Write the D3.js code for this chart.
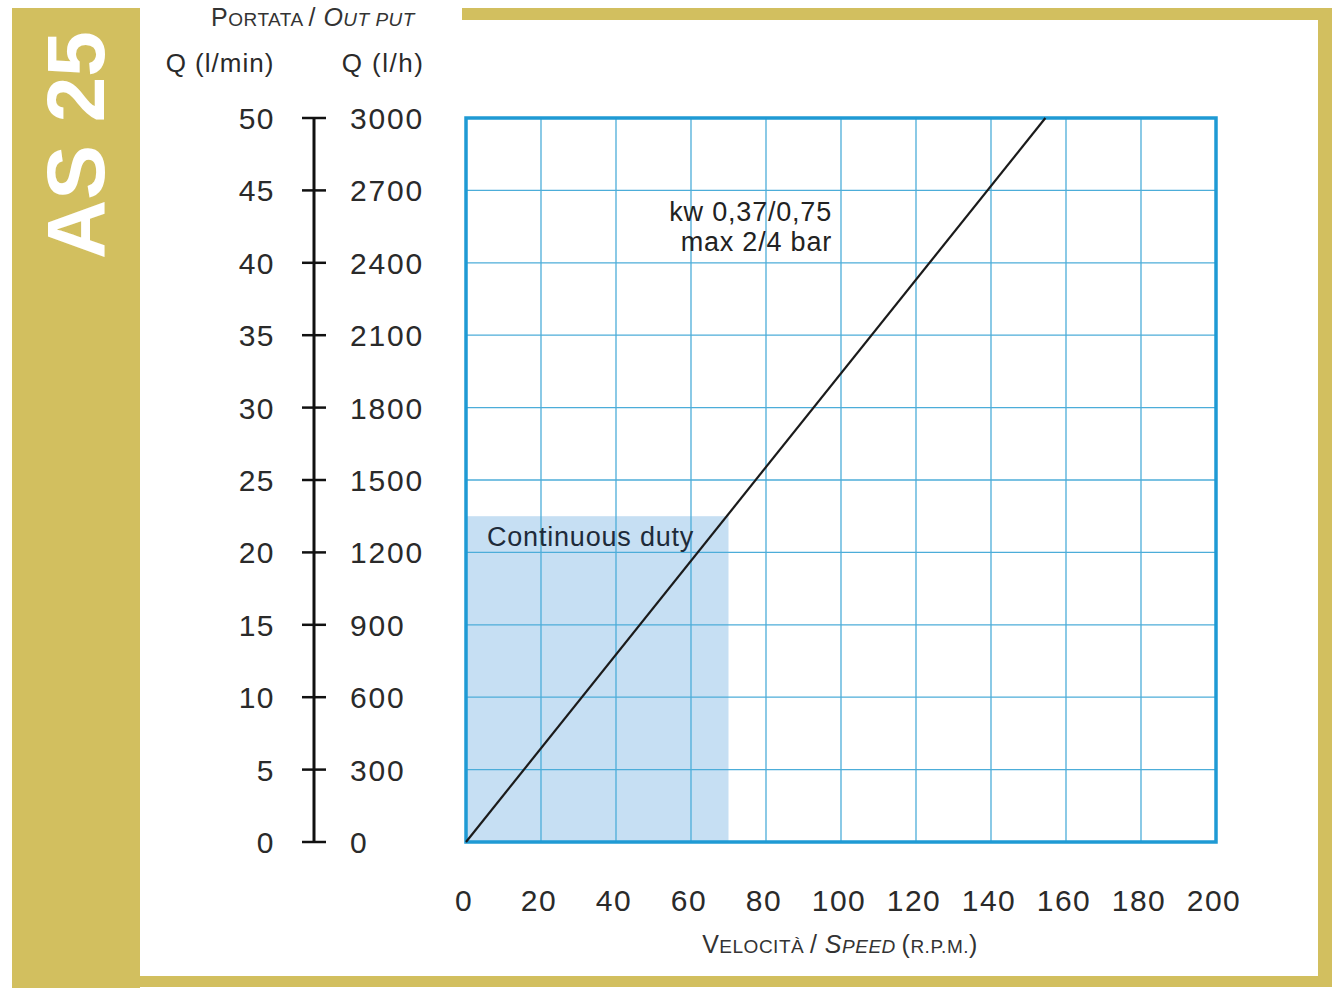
<!DOCTYPE html>
<html>
<head>
<meta charset="utf-8">
<script src="https://cdn.jsdelivr.net/npm/d3@7"></script>
<style>
  body { margin: 0; background: #fff; }
  svg { display: block; font-family: "Liberation Sans", Arial, sans-serif; }
</style>
</head>
<body>
<svg id="viz" width="1340" height="1000"></svg>
<script>
// chart data
var speedTicks = [0, 20, 40, 60, 80, 100, 120, 140, 160, 180, 200];
var flowMinTicks = [0, 5, 10, 15, 20, 25, 30, 35, 40, 45, 50];
var flowHourTicks = [0, 300, 600, 900, 1200, 1500, 1800, 2100, 2400, 2700, 3000];
// pump curve, speed (rpm) vs output (l/h)
var curveSpeed = [0, 154.5];
var curveFlow = [0, 3000];
// continuous duty zone
var dutySpeed = [0, 70];
var dutyFlow = [0, 1350];

var gold = "#d2bf5f";
var svg = d3.select("#viz");

// gold frame
svg.append("rect").attr("x", 12).attr("y", 8).attr("width", 128).attr("height", 980).attr("fill", gold);
svg.append("rect").attr("x", 462).attr("y", 8).attr("width", 870).attr("height", 12).attr("fill", gold);
svg.append("rect").attr("x", 1318).attr("y", 8).attr("width", 14).attr("height", 978).attr("fill", gold);
svg.append("rect").attr("x", 12).attr("y", 976).attr("width", 1320).attr("height", 11).attr("fill", gold);

svg.append("text")
    .attr("transform", "translate(104,145) rotate(-90)")
    .attr("text-anchor", "middle")
    .attr("fill", "#fff")
    .attr("font-weight", "bold")
    .attr("font-size", 82)
    .text("AS 25");

var x = d3.scaleLinear().domain([0, 200]).range([466, 1216]);
var yMin = d3.scaleLinear().domain([0, 50]).range([842, 118]);
var yHour = d3.scaleLinear().domain([0, 3000]).range([842, 118]);

// continuous duty area
svg.append("rect")
    .attr("x", x(dutySpeed[0]))
    .attr("y", yHour(dutyFlow[1]))
    .attr("width", x(dutySpeed[1]) - x(dutySpeed[0]))
    .attr("height", yHour(dutyFlow[0]) - yHour(dutyFlow[1]))
    .attr("fill", "#c6dff3");

// grid
svg.append("g").selectAll("line")
    .data(speedTicks.slice(1, -1))
    .enter().append("line")
    .attr("x1", d => x(d)).attr("x2", d => x(d))
    .attr("y1", yMin(0)).attr("y2", yMin(50))
    .attr("stroke", "#4cadd9").attr("stroke-width", 1.3);

svg.append("g").selectAll("line")
    .data(flowMinTicks.slice(1, -1))
    .enter().append("line")
    .attr("y1", d => yMin(d)).attr("y2", d => yMin(d))
    .attr("x1", x(0)).attr("x2", x(200))
    .attr("stroke", "#4cadd9").attr("stroke-width", 1.3);

svg.append("rect")
    .attr("x", x(0)).attr("y", yMin(50))
    .attr("width", x(200) - x(0)).attr("height", yMin(0) - yMin(50))
    .attr("fill", "none").attr("stroke", "#1f9ad4").attr("stroke-width", 3.5);

// curve
var pts = curveSpeed.map((s, i) => [s, curveFlow[i]]);
svg.append("path")
    .datum(pts)
    .attr("d", d3.line().x(d => x(d[0])).y(d => yHour(d[1])))
    .attr("fill", "none").attr("stroke", "#1b1b1b").attr("stroke-width", 2.2);

// labels in plot
svg.append("text").attr("x", 487).attr("y", 546)
    .attr("font-size", 27).attr("fill", "#1e2b3a")
    .attr("letter-spacing", 0.8)
    .text("Continuous duty");

var kw = svg.append("text").attr("text-anchor", "end").attr("font-size", 27)
    .attr("letter-spacing", 0.8).attr("fill", "#222");
kw.append("tspan").attr("x", 832).attr("y", 221).text("kw 0,37/0,75");
kw.append("tspan").attr("x", 832).attr("y", 251).text("max 2/4 bar");

// central double axis
var axisX = 314;
svg.append("line")
    .attr("x1", axisX).attr("x2", axisX)
    .attr("y1", yMin(0)).attr("y2", yMin(50))
    .attr("stroke", "#111").attr("stroke-width", 3);
svg.append("g").selectAll("line")
    .data(flowMinTicks)
    .enter().append("line")
    .attr("x1", axisX - 12).attr("x2", axisX + 12)
    .attr("y1", d => yMin(d)).attr("y2", d => yMin(d))
    .attr("stroke", "#111").attr("stroke-width", 2.5);

svg.append("g").selectAll("text")
    .data(flowMinTicks)
    .enter().append("text")
    .attr("x", 275).attr("y", d => yMin(d) + 11)
    .attr("text-anchor", "end")
    .attr("font-size", 30).attr("fill", "#2a2a2a")
    .attr("letter-spacing", 1.5)
    .text(d => d);

svg.append("g").selectAll("text")
    .data(flowHourTicks)
    .enter().append("text")
    .attr("x", 350).attr("y", d => yHour(d) + 11)
    .attr("font-size", 30).attr("fill", "#2a2a2a")
    .attr("letter-spacing", 1.8)
    .text(d => d);

// x tick labels
svg.append("g").selectAll("text")
    .data(speedTicks)
    .enter().append("text")
    .attr("x", d => x(d) - 2).attr("y", 911)
    .attr("text-anchor", "middle")
    .attr("font-size", 30).attr("fill", "#2a2a2a")
    .attr("letter-spacing", 1.5)
    .text(d => d);

// axis titles
svg.append("text").attr("x", 220).attr("y", 72).attr("text-anchor", "middle")
    .attr("font-size", 26).attr("letter-spacing", 1).attr("fill", "#2a2a2a").text("Q (l/min)");
svg.append("text").attr("x", 383).attr("y", 72).attr("text-anchor", "middle")
    .attr("font-size", 26).attr("letter-spacing", 1.5).attr("fill", "#2a2a2a").text("Q (l/h)");

function smallCaps(sel, parts) {
    parts.forEach(function(p) {
        sel.append("tspan")
            .attr("font-size", p.big ? 25 : 19)
            .attr("font-style", p.it ? "italic" : null)
            .text(p.t);
    });
}

var outTitle = svg.append("text").attr("x", 313).attr("y", 26)
    .attr("text-anchor", "middle").attr("fill", "#333").attr("letter-spacing", 0.5);
smallCaps(outTitle, [
    {t: "P", big: true}, {t: "ORTATA "}, {t: "/ ", big: true},
    {t: "O", big: true, it: true}, {t: "UT PUT", it: true}
]);

var speedTitle = svg.append("text").attr("x", 840).attr("y", 953)
    .attr("text-anchor", "middle").attr("fill", "#333").attr("letter-spacing", 0.5);
smallCaps(speedTitle, [
    {t: "V", big: true}, {t: "ELOCITÀ "}, {t: "/ ", big: true},
    {t: "S", big: true, it: true}, {t: "PEED ", it: true},
    {t: "(", big: true}, {t: "R.P.M."}, {t: ")", big: true}
]);
</script>
</body>
</html>
